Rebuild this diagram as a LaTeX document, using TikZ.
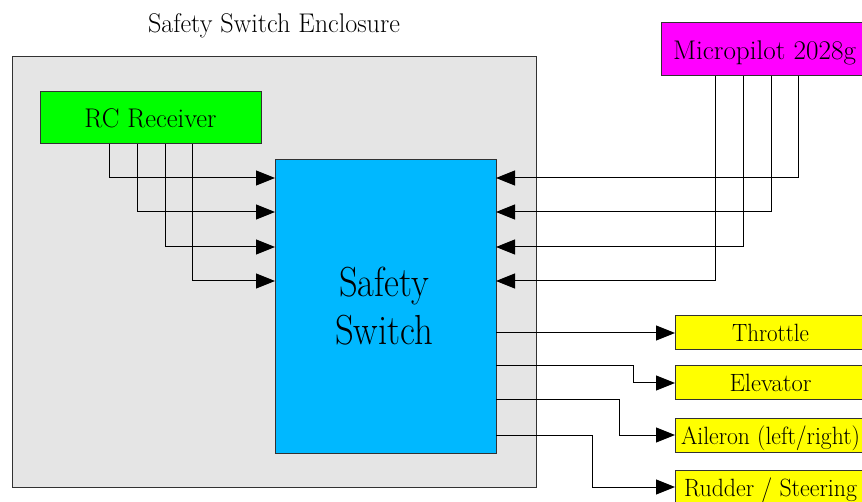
\documentclass[tikz,border=0pt]{standalone}
\usepackage{fontspec}
\setmainfont{Latin Modern Roman}
\usetikzlibrary{arrows.meta}
\definecolor{encgray}{RGB}{229,229,229}
\definecolor{ssblue}{RGB}{0,184,255}
\definecolor{rcgreen}{RGB}{0,255,0}
\definecolor{mpmag}{RGB}{255,0,255}
\definecolor{outyel}{RGB}{255,255,0}
\definecolor{edge}{RGB}{50,50,50}
\newcommand{\fitw}[2]{\resizebox{#1}{\height}{#2}}
\tikzset{
  box/.style={draw=edge, line width=1pt, rectangle, anchor=north west, inner sep=0pt, outer sep=0pt, text=black},
  smalltext/.style={font=\fontsize{27}{32}\selectfont, text height=22pt, text depth=2pt},
  outtext/.style={font=\fontsize{25}{30}\selectfont, text height=21pt, text depth=3pt},
  bigtext/.style={font=\fontsize{42}{48}\selectfont, anchor=base, inner sep=0pt},
  arr/.style={line width=1pt, draw=black, -{Triangle[length=19pt,width=15pt]}},
}
\begin{document}
\begin{tikzpicture}[x=1pt,y=-1pt]
\clip (0,0) rectangle (862,502);
\fill[white] (0,0) rectangle (862,502);
% enclosure
\node[box, fill=encgray, minimum width=524pt, minimum height=430pt] (enc) at (12,57) {};
\node[font=\fontsize{27}{32}\selectfont, anchor=base, inner sep=0pt] (title) at (274,33) {\fitw{252pt}{Safety Switch Enclosure}};
% RC receiver
\node[box, fill=rcgreen, minimum width=221pt, minimum height=52pt, smalltext] (rc) at (40,92) {\fitw{132pt}{RC Receiver}};
% Safety switch
\node[box, fill=ssblue, minimum width=221pt, minimum height=293pt] (ss) at (275,160) {};
\node[bigtext] (sstexta) at (384,297) {\fitw{90pt}{Safety}};
\node[bigtext] (sstextb) at (384,345) {\fitw{98pt}{Switch}};
% Micropilot
\node[box, fill=mpmag, minimum width=207pt, minimum height=53pt, smalltext] (mp) at (661,23) {\fitw{183pt}{Micropilot 2028g}};
% outputs
\node[box, fill=outyel, minimum width=191pt, minimum height=34pt, outtext] (thr) at (675,316) {\fitw{77pt}{Throttle}};
\node[box, fill=outyel, minimum width=191pt, minimum height=34pt, outtext] (elev) at (675,366) {\fitw{82pt}{Elevator}};
\node[box, fill=outyel, minimum width=191pt, minimum height=34pt, outtext] (ail) at (675,418) {\fitw{179pt}{Aileron (left/right)}};
\node[box, fill=outyel, minimum width=191pt, minimum height=34pt, outtext] (rud) at (675,470) {\fitw{173pt}{Rudder / Steering}};
% RC inputs
\draw[arr] ([xshift=69pt]rc.south west) |- ([yshift=-18pt]ss.north west);
\draw[arr] ([xshift=97pt]rc.south west) |- ([yshift=-52pt]ss.north west);
\draw[arr] ([xshift=125pt]rc.south west) |- ([yshift=-87pt]ss.north west);
\draw[arr] ([xshift=152pt]rc.south west) |- ([yshift=-121pt]ss.north west);
% Micropilot inputs
\draw[arr] ([xshift=137pt]mp.south west) |- ([yshift=-18pt]ss.north east);
\draw[arr] ([xshift=110pt]mp.south west) |- ([yshift=-52pt]ss.north east);
\draw[arr] ([xshift=82pt]mp.south west) |- ([yshift=-87pt]ss.north east);
\draw[arr] ([xshift=54pt]mp.south west) |- ([yshift=-121pt]ss.north east);
% outputs
\draw[arr] ([yshift=-173pt]ss.north east) -- (thr.west);
\draw[arr] ([yshift=-206pt]ss.north east) -- ++(137,0) |- (elev.west);
\draw[arr] ([yshift=-240pt]ss.north east) -- ++(123,0) |- (ail.west);
\draw[arr] ([yshift=-275pt]ss.north east) -- ++(96,0) |- (rud.west);
\end{tikzpicture}
\end{document}
